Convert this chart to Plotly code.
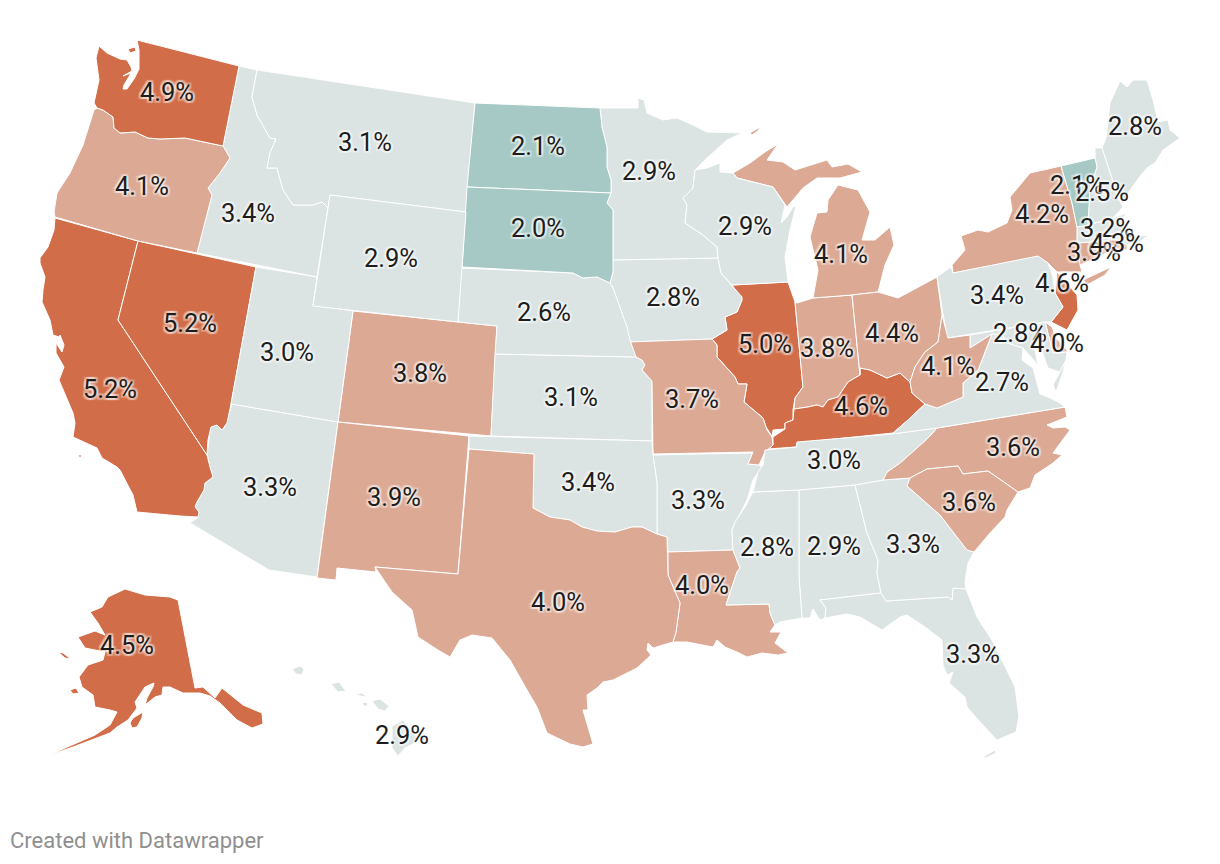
import plotly.graph_objects as go

# unemployment rate per state
states = ["AL","AK","AZ","AR","CA","CO","CT","DE","FL","GA","HI","ID","IL","IN","IA","KS","KY","LA","ME","MD","MA","MI","MN","MS","MO","MT","NE","NV","NH","NJ","NM","NY","NC","ND","OH","OK","OR","PA","RI","SC","SD","TN","TX","UT","VT","VA","WA","WV","WI","WY"]
rates = [2.9,4.5,3.3,3.3,5.2,3.8,3.9,4.0,3.3,3.3,2.9,3.4,5.0,3.8,2.8,3.1,4.6,4.0,2.8,2.8,3.2,4.1,2.9,2.8,3.7,3.1,2.6,5.2,2.5,4.6,3.9,4.2,3.6,2.1,4.4,3.4,4.1,3.4,4.3,3.6,2.0,3.0,4.0,3.0,2.1,2.7,4.9,4.1,2.9,2.9]

bin_edges = [2.5, 3.5, 4.5]
bin_colors = ["#a6c9c5", "#dbe3e3", "#dca994", "#d16e49"]

# the topojson basemap can't be fetched offline, so outlines are traced from the reference
shapes = {
    "WA": [[(137,40),(239,66),(223,146),(185,138),(160,139),(148,138),(135,132),(120,133),(114,128),(113,117),(103,110),(97,108),(94,103),(97,90),(99,80),(96,58),(99,46),(107,53),(120,59),(127,60),(131,67),(132,71),(123,76),(131,73),(124,85),(123,89),(127,89),(134,79),(139,69),(139,50)],
           [(128,49),(135,47),(136,51),(130,53)]],
    "OR": [[(97,108),(103,110),(113,117),(114,128),(120,133),(135,132),(148,138),(160,139),(185,138),(223,146),(230,158),(220,173),(208,188),(212,195),(197,253),(138,241),(55,217),(54,212),(57,193),(70,173),(83,145),(94,110)]],
    "CA": [[(55,218),(138,241),(118,320),(207,455),(210,467),(213,477),(205,483),(204,490),(197,502),(195,507),(199,512),(198,517),(180,516),(137,512),(133,495),(120,470),(117,467),(102,458),(97,448),(73,437),(75,423),(73,413),(59,380),(64,367),(56,353),(56,343),(62,352),(64,345),(60,335),(59,337),(53,335),(50,320),(42,302),(43,290),(45,277),(40,263),(40,258),(48,247),(54,230)],
           [(78,455),(82,455),(80,458)]],
    "NV": [[(138,241),(256,267),(231,404),(227,423),(222,430),(217,425),(211,427),(208,440),(207,455),(118,320)]],
    "ID": [[(239,66),(257,70),(252,97),(257,115),(270,138),(276,139),(270,153),(267,168),(277,168),(283,190),(293,205),(313,205),(322,202),(328,208),(317,277),(197,253),(212,195),(208,188),(220,173),(230,158),(223,146)]],
    "MT": [[(257,70),(475,103),(466,212),(330,195),(328,208),(322,202),(313,205),(293,205),(283,190),(277,168),(267,168),(270,153),(276,139),(270,138),(257,115),(252,97)]],
    "WY": [[(330,195),(466,212),(458,322),(313,306)]],
    "UT": [[(256,267),(317,277),(313,305),(353,311),(338,422),(231,404)]],
    "AZ": [[(232,404),(338,422),(317,577),(269,570),(190,523),(198,517),(199,512),(195,507),(197,502),(204,490),(205,483),(213,477),(210,467),(207,455),(209,440),(211,425),(217,424),(222,430),(225,427)]],
    "NM": [[(338,422),(469,436),(458,574),(375,567),(376,572),(337,568),(336,580),(317,578)]],
    "CO": [[(353,311),(497,326),(491,436),(338,422)]],
    "ND": [[(475,103),(600,108),(602,127),(607,147),(607,167),(611,180),(611,193),(467,187)]],
    "SD": [[(467,187),(611,193),(607,203),(613,210),(613,260),(613,272),(610,283),(597,277),(583,278),(573,273),(462,267)]],
    "NE": [[(460,268),(573,273),(583,278),(597,277),(610,283),(613,288),(622,313),(627,327),(630,340),(636,357),(495,354),(497,326),(458,322)]],
    "KS": [[(495,354),(636,357),(642,360),(645,365),(642,370),(652,381),(652,441),(491,436)]],
    "OK": [[(469,436),(652,441),(653,455),(657,483),(657,534),(642,527),(632,527),(615,532),(597,531),(582,527),(570,520),(550,517),(533,508),(534,454),(469,449)]],
    "TX": [[(469,449),(534,454),(533,508),(550,517),(570,520),(582,527),(597,531),(615,532),(632,527),(642,527),(657,534),(667,537),(668,575),(680,603),(676,632),(673,642),(653,648),(648,643),(647,650),(651,655),(637,668),(613,680),(603,682),(597,688),(587,695),(588,710),(583,710),(588,727),(593,744),(583,747),(570,744),(547,733),(537,707),(527,690),(510,660),(492,638),(472,635),(460,640),(450,657),(438,650),(418,637),(412,610),(392,592),(375,567),(458,574)]],
    "MN": [[(600,108),(638,108),(638,98),(644,100),(647,113),(663,120),(677,118),(693,125),(707,132),(742,133),(727,140),(707,158),(695,170),(693,188),(683,198),(687,205),(685,223),(703,235),(717,247),(718,258),(610,260),(613,260),(613,210),(607,203),(611,193),(611,180),(607,167),(607,147),(602,127)]],
    "IA": [[(610,260),(718,258),(721,273),(732,285),(742,297),(742,300),(737,312),(725,317),(727,330),(712,339),(628,342),(622,313),(613,288),(610,283),(613,272)]],
    "MO": [[(628,342),(712,339),(717,345),(717,357),(735,377),(738,384),(747,384),(744,402),(763,418),(767,430),(772,437),(773,445),(765,452),(759,465),(748,464),(753,452),(653,454),(652,381),(642,370),(645,365),(642,360),(636,357)]],
    "AR": [[(653,455),(753,453),(748,464),(759,465),(762,467),(758,473),(753,480),(747,500),(737,520),(732,530),(733,550),(668,552),(667,537),(657,534),(657,483)]],
    "LA": [[(668,552),(733,550),(740,568),(737,572),(726,605),(769,604),(770,613),(775,625),(770,632),(781,632),(775,643),(788,653),(778,655),(762,653),(747,657),(737,652),(725,647),(717,640),(713,647),(687,642),(673,642),(676,632),(680,603),(668,575)]],
    "WI": [[(695,170),(707,168),(720,163),(720,172),(733,173),(737,178),(773,187),(780,197),(785,205),(781,223),(787,217),(793,207),(796,206),(790,230),(785,257),(788,282),(732,285),(721,273),(718,258),(717,247),(703,235),(685,223),(687,205),(683,198),(693,188)]],
    "MI": [[(733,173),(750,163),(765,152),(778,144),(767,160),(783,162),(795,170),(827,160),(832,167),(848,164),(862,172),(850,175),(840,178),(817,178),(803,188),(787,207),(780,197),(773,187),(737,178)],
           [(838,185),(858,190),(870,212),(862,240),(875,240),(890,227),(894,245),(885,265),(878,292),(852,295),(813,298),(818,270),(810,237),(817,213),(827,212),(828,200)],
           [(750,133),(760,127),(758,131),(752,135)]],
    "IL": [[(732,285),(788,282),(795,302),(802,377),(803,387),(795,398),(793,410),(793,420),(785,423),(785,429),(773,430),(772,436),(766,427),(763,418),(744,402),(747,384),(738,384),(735,377),(717,357),(717,345),(712,339),(727,330),(725,317),(737,312),(742,300)]],
    "IN": [[(795,302),(797,303),(813,298),(852,295),(860,375),(848,382),(838,397),(828,400),(823,407),(817,405),(808,407),(794,409),(795,398),(803,387),(802,377)]],
    "OH": [[(852,295),(878,292),(898,298),(937,277),(942,315),(938,342),(925,352),(915,367),(910,382),(900,373),(887,378),(870,370),(860,368),(860,375)]],
    "KY": [[(860,368),(870,370),(887,378),(900,373),(910,382),(912,393),(925,404),(908,420),(893,433),(797,443),(796,447),(768,449),(773,445),(773,437),(785,429),(785,423),(793,420),(794,409),(808,407),(817,405),(823,407),(828,400),(838,397),(848,382),(860,375)]],
    "TN": [[(765,450),(797,447),(797,442),(892,434),(937,428),(928,438),(917,448),(900,463),(887,472),(883,480),(855,485),(799,490),(753,492),(758,472),(763,465)]],
    "MS": [[(753,492),(799,490),(799,577),(802,618),(780,622),(775,625),(770,613),(769,604),(726,605),(737,572),(740,568),(733,550),(732,530),(735,522),(745,507)]],
    "AL": [[(799,490),(855,485),(867,533),(878,560),(877,573),(881,593),(820,600),(826,608),(825,618),(820,620),(813,609),(810,618),(802,618),(799,577)]],
    "GA": [[(855,485),(883,480),(910,478),(907,486),(940,515),(967,550),(974,552),(968,563),(965,582),(966,589),(953,588),(952,600),(948,597),(886,601),(881,593),(877,573),(878,560),(867,533)]],
    "FL": [[(820,600),(881,593),(886,601),(948,597),(952,600),(953,588),(966,589),(977,617),(993,642),(1015,687),(1019,717),(1016,732),(997,740),(980,722),(967,707),(965,697),(949,683),(953,672),(947,675),(943,665),(942,640),(925,627),(907,615),(900,617),(882,630),(860,617),(847,614),(825,618),(826,608)],
           [(983,757),(995,750),(996,753),(986,758)]],
    "SC": [[(907,486),(910,478),(927,469),(958,466),(963,474),(988,471),(1018,492),(1007,510),(1005,517),(990,533),(974,552),(967,550),(940,515)]],
    "NC": [[(937,428),(1065,407),(1067,417),(1060,420),(1047,425),(1053,428),(1065,427),(1070,430),(1053,453),(1062,455),(1053,463),(1035,475),(1030,488),(1018,492),(988,471),(963,474),(958,466),(927,469),(910,478),(883,480),(887,472),(900,463),(917,448),(928,438)]],
    "VA": [[(892,434),(908,420),(925,404),(937,408),(963,397),(963,383),(978,370),(983,358),(992,334),(1002,335),(1007,343),(1023,348),(1022,360),(1033,368),(1037,383),(1040,394),(1050,398),(1060,403),(1065,407),(937,428)],
           [(1060,372),(1066,360),(1063,372),(1056,392),(1053,385)]],
    "WV": [[(942,315),(948,338),(970,335),(970,348),(992,334),(983,358),(978,370),(963,383),(963,397),(937,408),(925,404),(912,393),(910,382),(915,367),(925,352),(938,342)]],
    "MD": [[(970,335),(1045,322),(1053,353),(1067,352),(1066,360),(1060,372),(1048,368),(1042,352),(1040,345),(1035,350),(1038,365),(1023,348),(1007,343),(1002,335),(992,334),(970,348)]],
    "DE": [[(1045,322),(1052,327),(1056,338),(1067,350),(1067,352),(1053,353)]],
    "PA": [[(937,277),(951,267),(953,273),(1038,256),(1048,263),(1053,277),(1055,293),(1063,307),(1051,322),(1045,322),(947,338)]],
    "NJ": [[(1057,272),(1077,295),(1078,310),(1067,330),(1051,322),(1063,307),(1055,293)]],
    "NY": [[(1061,166),(1072,203),(1077,227),(1077,243),(1080,265),(1082,272),(1057,272),(1048,263),(1038,257),(953,273),(952,265),(965,250),(961,236),(978,230),(988,232),(1007,223),(1012,210),(1010,197),(1030,173)],
           [(1083,280),(1100,272),(1111,267),(1105,275),(1087,285)]],
    "VT": [[(1061,166),(1095,158),(1097,167),(1090,187),(1088,225),(1077,227),(1072,203)]],
    "NH": [[(1095,148),(1102,148),(1118,197),(1123,207),(1113,218),(1088,225),(1090,187),(1097,167),(1095,158)]],
    "ME": [[(1120,81),(1127,87),(1133,80),(1147,80),(1153,100),(1158,122),(1168,120),(1170,130),(1180,138),(1173,143),(1163,150),(1155,163),(1148,167),(1141,175),(1130,190),(1123,205),(1118,197),(1102,148),(1106,138),(1110,103)]],
    "MA": [[(1077,227),(1088,225),(1113,218),(1127,213),(1120,222),(1133,237),(1148,235),(1140,242),(1127,245),(1118,240),(1077,243)]],
    "CT": [[(1077,243),(1108,240),(1113,250),(1080,265)]],
    "RI": [[(1108,240),(1118,240),(1127,245),(1127,250),(1113,250)]],
    "AK": [[(178,600),(195,688),(203,687),(215,698),(222,688),(243,705),(262,713),(263,724),(252,728),(237,720),(227,710),(220,703),(210,696),(200,693),(183,693),(170,687),(163,687),(162,695),(155,697),(145,705),(147,698),(153,687),(154,683),(145,687),(135,702),(137,708),(128,720),(117,727),(110,733),(100,737),(73,747),(50,755),(65,748),(95,735),(110,725),(117,712),(110,710),(95,707),(93,695),(82,687),(79,677),(88,665),(103,660),(105,652),(85,648),(78,637),(95,631),(105,635),(98,623),(90,612),(102,607),(108,597),(125,589),(145,595),(170,597)],
           [(130,723),(133,718),(143,712),(142,718),(137,727),(132,728)],
           [(58,652),(63,653),(71,659),(65,658)],
           [(70,690),(76,688),(79,693),(73,694)]],
    "HI": [[(292,669),(300,666),(304,669),(302,675),(296,674)],
           [(331,684),(339,682),(346,691),(338,692)],
           [(356,694),(362,693),(367,697),(360,696)],
           [(362,703),(367,702),(368,706),(364,706)],
           [(372,701),(380,699),(389,706),(385,711),(378,709)],
           [(392,726),(403,720),(420,740),(405,748),(398,756),(392,748)]],
}

# label centres, same picture coordinates as the outlines
label_x = dict(AL=834,AK=127,AZ=270,AR=698,CA=110,CO=420,CT=1094,DE=1057,FL=973,GA=913,HI=402,ID=248,IL=765,IN=827,IA=673,KS=571,KY=861,LA=702,ME=1135,MD=1020,MA=1107,MI=841,MN=649,MS=767,MO=692,MT=365,NE=544,NV=190,NH=1102,NJ=1062,NM=394,NY=1042,NC=1013,ND=538,OH=892,OK=588,OR=142,PA=997,RI=1117,SC=969,SD=538,TN=834,TX=558,UT=287,VT=1077,VA=1002,WA=167,WV=948,WI=745,WY=391)
label_y = dict(AL=546,AK=645,AZ=487,AR=500,CA=389,CO=373,CT=252,DE=343,FL=654,GA=544,HI=735,ID=213,IL=344,IN=348,IA=297,KS=397,KY=406,LA=585,ME=126,MD=333,MA=228,MI=254,MN=171,MS=547,MO=399,MT=142,NE=312,NV=323,NH=192,NJ=283,NM=497,NY=214,NC=447,ND=146,OH=333,OK=482,OR=186,PA=295,RI=243,SC=502,SD=228,TN=460,TX=602,UT=352,VT=185,VA=382,WA=92,WV=366,WI=226,WY=258)
label_dy = 3  # middle-center text sits a little high in plotly


def bin_color(v):
    for edge, col in zip(bin_edges, bin_colors):
        if v < edge:
            return col
    return bin_colors[-1]


fig = go.Figure()
for st, rate in zip(states, rates):
    xs, ys = [], []
    for poly in shapes[st]:
        xs += [p[0] for p in poly] + [poly[0][0], None]
        ys += [p[1] for p in poly] + [poly[0][1], None]
    fig.add_trace(go.Scatter(
        x=xs, y=ys, mode="lines", fill="toself",
        fillcolor=bin_color(rate),
        line=dict(color="#ffffff", width=1),
        name=st, hoverinfo="text", text=f"{st}: {rate:.1f}%",
    ))

# higher values sit on top where labels collide
order = sorted(range(len(states)), key=lambda i: rates[i])
halo = ", ".join(f"{dx}px {dy}px 1px rgba(255,255,255,0.35)" for dx, dy in [(-2,0),(2,0),(0,-2),(0,2),(-2,-2),(2,-2),(-2,2),(2,2)])
fig.add_trace(go.Scatter(
    x=[label_x[states[i]] for i in order],
    y=[label_y[states[i]] + label_dy for i in order],
    text=[f"{rates[i]:.1f}%" for i in order],
    mode="text", textposition="middle center",
    textfont=dict(family="Roboto", size=25.5, color="#1d1d1d", shadow=halo),
    hoverinfo="skip",
))

fig.update_layout(
    width=1220, height=864,
    margin=dict(l=0, r=0, t=0, b=0),
    paper_bgcolor="#ffffff", plot_bgcolor="#ffffff",
    showlegend=False,
    xaxis=dict(range=[0, 1220], visible=False, fixedrange=True),
    yaxis=dict(range=[864, 0], visible=False, fixedrange=True),
    annotations=[dict(
        text="Created with Datawrapper", x=8, y=840, xref="x", yref="y",
        xanchor="left", yanchor="middle", showarrow=False,
        font=dict(family="Roboto", size=22, color="#8f8f8f"),
    )],
)

fig.write_html("out.html", config={"displayModeBar": False},
               post_script="document.body.style.margin='0';")
